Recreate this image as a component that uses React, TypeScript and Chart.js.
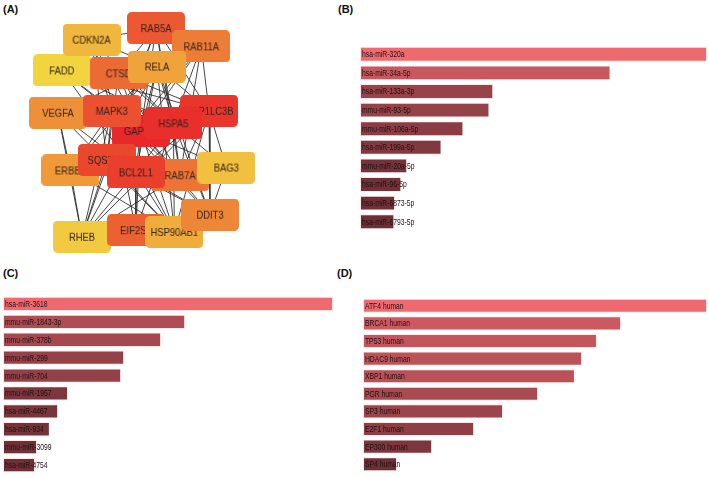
import React, { useEffect, useRef } from "react";
import { Chart, registerables } from "chart.js";
Chart.register(...registerables);

// ---------- Panel A: PPI network ----------
const nodeNames = ["FADD", "CDKN2A", "RAB5A", "RAB11A", "CTSD", "RELA", "VEGFA", "GAPDH", "MAPK3", "MAP1LC3B", "HSPA5", "ERBB2", "SQSTM1", "RAB7A", "BCL2L1", "BAG3", "RHEB", "EIF2S1", "HSP90AB1", "DDIT3"];
const nodeX = [59, 90, 157, 204, 118, 158, 55, 141, 111, 212, 175, 68, 106, 182, 136, 230, 80, 136, 176, 213];
const nodeY = [68, 36, 24, 43, 71, 64, 112, 131, 110, 110, 123, 172, 161, 177, 174, 169, 241, 234, 236, 218];
const nodeRank = [20, 17, 7, 11, 9, 15, 13, 1, 6, 3, 2, 14, 5, 10, 4, 18, 19, 8, 16, 12];

const edgeFrom = [
  "GAPDH", "GAPDH", "GAPDH", "GAPDH", "GAPDH", "GAPDH", "GAPDH", "GAPDH", "GAPDH", "GAPDH", "GAPDH", "GAPDH", "GAPDH", "GAPDH", "GAPDH", "GAPDH", "GAPDH", "GAPDH", "GAPDH",
  "HSPA5", "HSPA5", "HSPA5", "HSPA5", "HSPA5", "HSPA5", "HSPA5", "HSPA5", "HSPA5", "HSPA5", "HSPA5", "HSPA5", "HSPA5", "HSPA5", "HSPA5", "HSPA5", "HSPA5",
  "MAP1LC3B", "MAP1LC3B", "MAP1LC3B", "MAP1LC3B", "MAP1LC3B", "MAP1LC3B", "MAP1LC3B", "MAP1LC3B", "MAP1LC3B", "MAP1LC3B", "MAP1LC3B", "MAP1LC3B", "MAP1LC3B",
  "BCL2L1", "BCL2L1", "BCL2L1", "BCL2L1", "BCL2L1", "BCL2L1", "BCL2L1", "BCL2L1", "BCL2L1", "BCL2L1", "BCL2L1", "BCL2L1",
  "SQSTM1", "SQSTM1", "SQSTM1", "SQSTM1", "SQSTM1", "SQSTM1", "SQSTM1", "SQSTM1", "SQSTM1", "SQSTM1", "SQSTM1",
  "MAPK3", "MAPK3", "MAPK3", "MAPK3", "MAPK3", "MAPK3", "MAPK3", "MAPK3", "MAPK3", "MAPK3",
  "RELA", "RELA", "RELA", "RELA", "RELA", "RELA",
  "RAB5A", "RAB5A", "RAB5A", "RAB5A", "RAB5A",
  "RAB7A", "RAB7A", "RAB7A",
  "VEGFA", "VEGFA", "VEGFA",
  "ERBB2", "ERBB2",
  "EIF2S1", "EIF2S1",
  "DDIT3", "CTSD",
];
const edgeTo = [
  "FADD", "CDKN2A", "RAB5A", "RAB11A", "CTSD", "RELA", "VEGFA", "MAPK3", "MAP1LC3B", "HSPA5", "ERBB2", "SQSTM1", "RAB7A", "BCL2L1", "BAG3", "RHEB", "EIF2S1", "HSP90AB1", "DDIT3",
  "FADD", "CDKN2A", "RAB5A", "RAB11A", "CTSD", "RELA", "VEGFA", "MAPK3", "MAP1LC3B", "ERBB2", "SQSTM1", "BCL2L1", "BAG3", "EIF2S1", "HSP90AB1", "DDIT3", "RAB7A",
  "RAB5A", "RAB11A", "CTSD", "RELA", "MAPK3", "SQSTM1", "RAB7A", "BCL2L1", "BAG3", "DDIT3", "RHEB", "FADD", "HSP90AB1",
  "FADD", "CDKN2A", "RELA", "VEGFA", "MAPK3", "SQSTM1", "ERBB2", "BAG3", "EIF2S1", "HSP90AB1", "DDIT3", "RHEB",
  "CDKN2A", "RAB5A", "RAB11A", "CTSD", "RELA", "MAPK3", "RAB7A", "BAG3", "RHEB", "HSP90AB1", "DDIT3",
  "FADD", "CDKN2A", "RELA", "VEGFA", "ERBB2", "RHEB", "EIF2S1", "HSP90AB1", "DDIT3", "RAB7A",
  "FADD", "CDKN2A", "VEGFA", "ERBB2", "DDIT3", "HSP90AB1",
  "RAB11A", "RAB7A", "CDKN2A", "CTSD", "RHEB",
  "RAB11A", "CTSD", "RHEB",
  "ERBB2", "RHEB", "HSP90AB1",
  "RHEB", "HSP90AB1",
  "DDIT3", "HSP90AB1",
  "BAG3", "FADD",
];

// ---------- Panel B ----------
const bLabels = ["hsa-miR-320a", "hsa-miR-34a-5p", "hsa-miR-133a-3p", "mmu-miR-93-5p", "mmu-miR-106a-5p", "hsa-miR-199a-5p", "mmu-miR-20a-5p", "hsa-miR-96-5p", "hsa-miR-6873-5p", "hsa-miR-6793-5p"];
const bValues = [100, 72.2, 38.4, 37.3, 29.8, 23.5, 13.6, 11.9, 10.1, 9.9];

// ---------- Panel C ----------
const cLabels = ["hsa-miR-3618", "mmu-miR-1843-3p", "mmu-miR-378b", "mmu-miR-299", "mmu-miR-704", "mmu-miR-1957", "hsa-miR-4467", "hsa-miR-934", "mmu-miR-3099", "hsa-miR-4754"];
const cValues = [100, 55.2, 47.9, 36.7, 35.8, 19.7, 16.7, 14.2, 10.3, 9.7];

// ---------- Panel D ----------
const dLabels = ["ATF4 human", "BRCA1 human", "TP53 human", "HDAC9 human", "XBP1 human", "PGR human", "SP3 human", "E2F1 human", "EP300 human", "SP4 human"];
const dValues = [100, 75, 68, 63.7, 61.6, 50.9, 40.7, 32.3, 20.1, 9.9];

const lerp = (a: number, b: number, t: number) => Math.round(a + (b - a) * t);

function barColor(t: number) {
  const dark = [95, 42, 49];
  const light = [239, 106, 112];
  return `rgb(${lerp(dark[0], light[0], t)},${lerp(dark[1], light[1], t)},${lerp(dark[2], light[2], t)})`;
}

function nodeColor(rank: number, total: number) {
  const t = (rank - 1) / (total - 1);
  const red = [232, 40, 42];
  const yellow = [242, 212, 64];
  return `rgb(${lerp(red[0], yellow[0], t)},${lerp(red[1], yellow[1], Math.pow(t, 1.1))},${lerp(red[2], yellow[2], t)})`;
}

function makeNodeImage(label: string, color: string) {
  const w = 58, h = 32, r = 5;
  const c = document.createElement("canvas");
  c.width = w;
  c.height = h;
  const ctx = c.getContext("2d")!;
  ctx.fillStyle = color;
  ctx.beginPath();
  ctx.moveTo(r, 0);
  ctx.lineTo(w - r, 0);
  ctx.quadraticCurveTo(w, 0, w, r);
  ctx.lineTo(w, h - r);
  ctx.quadraticCurveTo(w, h, w - r, h);
  ctx.lineTo(r, h);
  ctx.quadraticCurveTo(0, h, 0, h - r);
  ctx.lineTo(0, r);
  ctx.quadraticCurveTo(0, 0, r, 0);
  ctx.closePath();
  ctx.fill();
  ctx.save();
  ctx.translate(w / 2, h / 2 + 0.5);
  ctx.scale(0.82, 1);
  ctx.fillStyle = "#33231d";
  ctx.font = "11.5px 'Liberation Sans', Arial, sans-serif";
  ctx.textAlign = "center";
  ctx.textBaseline = "middle";
  ctx.fillText(label, 0, 0);
  ctx.restore();
  return c;
}

const barLabelPlugin = {
  id: "barLabels",
  afterDatasetsDraw(chart: any) {
    const ctx = chart.ctx;
    const meta = chart.getDatasetMeta(0);
    meta.data.forEach((bar: any, i: number) => {
      ctx.save();
      ctx.translate(bar.base + 2, bar.y + 0.5);
      ctx.scale(0.75, 1);
      ctx.font = "9px 'Liberation Sans', Arial, sans-serif";
      ctx.fillStyle = "#241012";
      ctx.textBaseline = "middle";
      ctx.textAlign = "left";
      ctx.fillText(chart.data.labels[i], 0, 0);
      ctx.restore();
    });
  },
};

function makeBarChart(canvas: HTMLCanvasElement, labels: string[], values: number[]) {
  const max = Math.max(...values);
  return new Chart(canvas, {
    type: "bar",
    data: {
      labels,
      datasets: [
        {
          data: values,
          backgroundColor: values.map((v) => barColor(v / max)),
          borderColor: "rgba(255,228,228,0.9)",
          borderWidth: 1,
          borderSkipped: false,
          barPercentage: 0.8,
          categoryPercentage: 1,
        },
      ],
    },
    options: {
      indexAxis: "y",
      responsive: false,
      animation: false,
      events: [],
      layout: { padding: 0 },
      plugins: { legend: { display: false }, tooltip: { enabled: false } },
      scales: {
        x: { display: false, min: 0, max: max },
        y: { display: false },
      },
    },
    plugins: [barLabelPlugin],
  } as any);
}

export default function App() {
  const aRef = useRef<HTMLCanvasElement>(null);
  const bRef = useRef<HTMLCanvasElement>(null);
  const cRef = useRef<HTMLCanvasElement>(null);
  const dRef = useRef<HTMLCanvasElement>(null);

  useEffect(() => {
    const charts: Chart[] = [];
    const edgeData: any[] = [];
    edgeFrom.forEach((f, i) => {
      const a = nodeNames.indexOf(f);
      const b = nodeNames.indexOf(edgeTo[i]);
      edgeData.push({ x: nodeX[a], y: nodeY[a] });
      edgeData.push({ x: nodeX[b], y: nodeY[b] });
      edgeData.push({ x: null, y: null });
    });
    const images = nodeNames.map((n, i) => makeNodeImage(n, nodeColor(nodeRank[i], nodeNames.length)));
    charts.push(
      new Chart(aRef.current!, {
        type: "scatter",
        data: {
          datasets: [
            {
              data: nodeNames.map((_, i) => ({ x: nodeX[i], y: nodeY[i] })),
              pointStyle: images,
              pointRadius: 2,
              showLine: false,
              clip: false,
            },
            {
              data: edgeData,
              showLine: true,
              spanGaps: false,
              borderColor: "rgba(40,40,40,0.85)",
              borderWidth: 1,
              pointRadius: 0,
              clip: false,
            },
          ],
        },
        options: {
          responsive: false,
          animation: false,
          events: [],
          layout: { padding: 0 },
          plugins: { legend: { display: false }, tooltip: { enabled: false } },
          scales: {
            x: { display: false, min: 0, max: 265 },
            y: { display: false, min: 0, max: 262, reverse: true },
          },
        },
      } as any)
    );
    charts.push(makeBarChart(bRef.current!, bLabels, bValues));
    charts.push(makeBarChart(cRef.current!, cLabels, cValues));
    charts.push(makeBarChart(dRef.current!, dLabels, dValues));
    return () => charts.forEach((c) => c.destroy());
  }, []);

  const panelLabel: React.CSSProperties = {
    position: "absolute",
    fontFamily: "'Liberation Sans', Arial, sans-serif",
    fontWeight: "bold",
    fontSize: 11,
    lineHeight: "12px",
    color: "#111",
  };

  return (
    <div style={{ position: "fixed", left: 0, top: 0, width: 709, height: 478, background: "#fff", overflow: "hidden" }}>
      <div style={{ ...panelLabel, left: 3, top: 3 }}>(A)</div>
      <div style={{ ...panelLabel, left: 338, top: 3 }}>(B)</div>
      <div style={{ ...panelLabel, left: 3, top: 267 }}>(C)</div>
      <div style={{ ...panelLabel, left: 337, top: 267 }}>(D)</div>
      <canvas ref={aRef} width={265} height={262} style={{ position: "absolute", left: 0, top: 0, width: 265, height: 262 }} />
      <canvas ref={bRef} width={347} height={186} style={{ position: "absolute", left: 360, top: 45, width: 347, height: 186 }} />
      <canvas ref={cRef} width={330} height={179} style={{ position: "absolute", left: 3, top: 295, width: 330, height: 179 }} />
      <canvas ref={dRef} width={344} height={176} style={{ position: "absolute", left: 363, top: 297, width: 344, height: 176 }} />
    </div>
  );
}
